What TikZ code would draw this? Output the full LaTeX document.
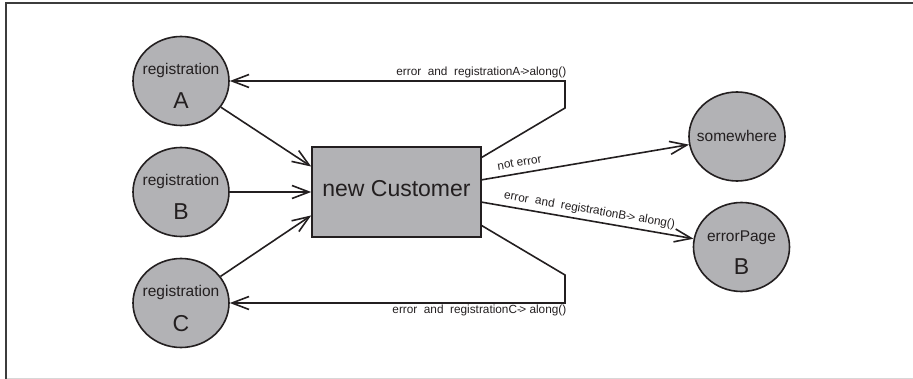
\documentclass[tikz,border=0pt]{standalone}
\usepackage{fontspec}
\setmainfont{Liberation Sans}
\usetikzlibrary{shapes.geometric,arrows.meta,calc}
\definecolor{ink}{HTML}{231F20}
\definecolor{shade}{RGB}{178,178,181}
\definecolor{framec}{RGB}{60,60,60}
\definecolor{bottomc}{RGB}{215,215,215}
\newcommand{\barrow}{-\kern-1.6pt>}
\begin{document}
\begin{tikzpicture}[x=1pt,y=-1pt,
  state/.style={ellipse, draw=ink, fill=shade, line width=1.6pt, minimum width=96pt, minimum height=89pt, inner sep=0pt},
  box/.style={rectangle, draw=ink, fill=shade, line width=1.6pt, minimum width=169pt, minimum height=90pt, inner sep=0pt},
  small/.style={font=\fontsize{15.5}{18}\selectfont, text=ink, inner sep=0pt, anchor=base},
  big/.style={font=\fontsize{23}{27}\selectfont, text=ink, inner sep=0pt, anchor=base},
  edgelab/.style={font=\fontsize{11.8}{13}\selectfont, text=ink, inner sep=0pt},
  conn/.style={draw=ink, line width=1.6pt, line join=miter, -{Straight Barb[length=17pt,width=13pt,line width=1.6pt]}},
]
\useasboundingbox (0,0) rectangle (913,379);
\draw[framec, line width=2pt] (5.5,379) -- (5.5,3) -- (913,3);
\draw[bottomc, line width=1pt] (6.5,378.5) -- (913,378.5);

% nodes
\node[state] (A) at (181,81) {};
\node[state] (B) at (181,192) {};
\node[state] (C) at (181,303) {};
\node[box] (rect) at (396.5,192) {};
\node[state] (sw) at (737,136.5) {};
\node[state] (ep) at (741.5,247) {};

\node[small] (At) at ([yshift=6pt]A.center) {registration};
\node[big] (Ab) at ([yshift=-28pt]A.center) {A};
\node[small] (Bt) at ([yshift=6pt]B.center) {registration};
\node[big] (Bb) at ([yshift=-28pt]B.center) {B};
\node[small] (Ct) at ([yshift=6pt]C.center) {registration};
\node[big] (Cb) at ([yshift=-28pt]C.center) {C};
\node[big] (rt) at ([yshift=-5pt]rect.center) {new Customer};
\node[small] (swt) at ([yshift=-5pt]sw.center) {somewhere};
\node[small] (ept) at ([yshift=5pt]ep.center) {errorPage};
\node[big] (epb) at ([yshift=-28pt]ep.center) {B};

% incoming connectors
\coordinate (rA) at ($(rect.north west)!0.222!(rect.south west)$);
\coordinate (rC) at ($(rect.north west)!0.756!(rect.south west)$);
\draw[conn] (A) -- (rA);
\draw[conn] (B) -- (rect);
\draw[conn] (C) -- (rC);

% top loop
\coordinate (tS) at ($(rect.north east)!0.122!(rect.south east)$);
\coordinate (tK) at (565,108);
\coordinate (tT) at (565,81);
\draw[conn] (tS) -- (tK) -- (tT) -- (A.east);
\node[edgelab, anchor=base east] (labA) at ([xshift=1.5pt,yshift=5pt]tT)
  {error\ \ and\ \ registrationA\barrow along()};

% bottom loop
\coordinate (bS) at ($(rect.north east)!0.867!(rect.south east)$);
\coordinate (bK) at (565,275);
\coordinate (bT) at (565,303);
\draw[conn] (bS) -- (bK) -- (bT) -- (C.east);
\node[edgelab, anchor=base east] (labC) at ([xshift=1.5pt,yshift=-10pt]bT)
  {error\ \ and\ \ registrationC\barrow\ along()};

% outgoing
\coordinate (nS) at ($(rect.north east)!0.367!(rect.south east)$);
\coordinate (eS) at ($(rect.north east)!0.611!(rect.south east)$);
\draw[conn] (nS) -- node[edgelab, sloped, above=6pt, pos=0.19] (labN) {not error} (sw);
\draw[conn] (eS) -- node[edgelab, sloped, above=4pt, pos=0.5] (labB) {error\ \ and\ \ registrationB\barrow\ along()} (ep);
\end{tikzpicture}
\end{document}
